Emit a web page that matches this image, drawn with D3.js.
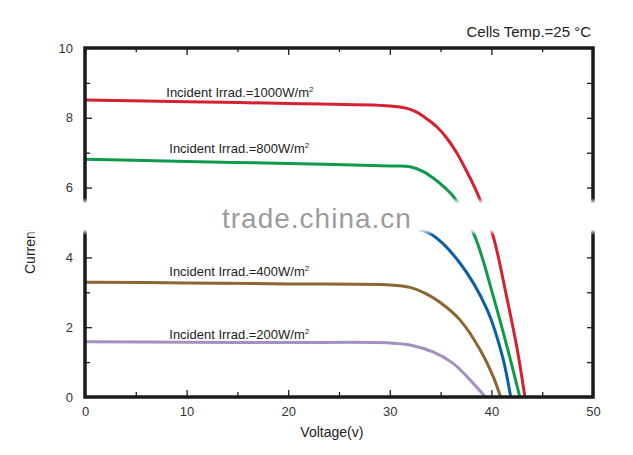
<!DOCTYPE html>
<html>
<head>
<meta charset="utf-8">
<script src="https://cdn.jsdelivr.net/npm/d3@7"></script>
<style>
  body { margin: 0; background: #fff; }
  text { font-family: "Liberation Sans", Arial, sans-serif; }
</style>
</head>
<body>
<div id="chart"></div>
<script>
// I-V curves (voltage in V, current in A)
const v1000 = [0, 10, 20, 30, 31.7, 32.6, 33.6, 34.6, 35.6, 36.6, 37.4, 38.2, 38.9, 40.2, 41.5, 42.5, 43.3];
const i1000 = [8.51, 8.46, 8.41, 8.34, 8.27, 8.17, 7.98, 7.75, 7.42, 6.99, 6.56, 6.1, 5.64, 4.58, 2.87, 1.43, 0];

const v800 = [0, 10, 20, 30, 32, 33.3, 34.3, 35.3, 36.4, 38.4, 40.2, 41.8, 42.8];
const i800 = [6.81, 6.75, 6.69, 6.62, 6.6, 6.46, 6.27, 6.03, 5.69, 4.58, 2.87, 1.15, 0];

const v600 = [0, 10, 20, 29, 31, 32.5, 34.2, 36.9, 39.6, 41.1, 41.9];
const i600 = [5.15, 5.12, 5.08, 5.04, 4.98, 4.85, 4.64, 3.84, 2.49, 1.15, 0];

const v400 = [0, 10, 20, 30, 32, 33.5, 34.9, 36.9, 38.9, 40.2, 40.9];
const i400 = [3.29, 3.27, 3.24, 3.21, 3.14, 2.97, 2.72, 2.21, 1.35, 0.57, 0];

const v200 = [0, 10, 20, 30, 32, 34.25, 36.2, 37.9, 39.4];
const i200 = [1.58, 1.57, 1.56, 1.55, 1.49, 1.29, 0.97, 0.49, 0];

const xMajor = [0, 10, 20, 30, 40, 50];
const xMinor = [5, 15, 25, 35, 45];
const yMajor = [0, 2, 4, 6, 8, 10];
const yMinor = [1, 3, 5, 7, 9];

const series = [
  { v: v1000, i: i1000, color: "#d42030", label: "1000", lx: 0, ly: 8.6 },
  { v: v800, i: i800, color: "#0f9a4a", label: "800", lx: 1, ly: 7.0 },
  { v: v600, i: i600, color: "#0b5fa6", label: null },
  { v: v400, i: i400, color: "#8c6632", label: "400", lx: 1, ly: 3.46 },
  { v: v200, i: i200, color: "#a58fc0", label: "200", lx: 1, ly: 1.66 }
];

const W = 633, H = 455;
const margin = { top: 48, right: 40, bottom: 58, left: 85 },
  width = W - margin.left - margin.right,
  height = H - margin.top - margin.bottom;

const svg = d3.select("#chart").append("svg")
  .attr("width", W)
  .attr("height", H);

const g = svg.append("g")
  .attr("transform", "translate(" + margin.left + "," + margin.top + ")");

const x = d3.scaleLinear().domain([0, 50]).range([0, width]);
const y = d3.scaleLinear().domain([0, 10]).range([height, 0]);

// curves
const line = d3.line()
  .x(function (d) { return x(d[0]); })
  .y(function (d) { return y(d[1]); })
  .curve(d3.curveCatmullRom.alpha(0.5));

series.forEach(function (s) {
  g.append("path")
    .datum(d3.zip(s.v, s.i))
    .attr("d", line)
    .attr("fill", "none")
    .attr("stroke", s.color)
    .attr("stroke-width", 3);

  if (s.label) {
    const t = g.append("text")
      .attr("x", x(8) + s.lx * 3)
      .attr("y", y(s.ly))
      .attr("font-size", 13)
      .attr("fill", "#222")
      .text("Incident Irrad.=" + s.label + "W/m");
    t.append("tspan")
      .attr("dy", -5)
      .attr("font-size", 8)
      .text("2");
  }
});

// ticks (all pointing inward)
function styleAxis(sel) {
  sel.select(".domain").remove();
  sel.selectAll("line").attr("stroke", "#1a1a1a").attr("stroke-width", 1.3);
  sel.selectAll("text").attr("font-size", 13).attr("fill", "#333")
    .attr("font-family", "Liberation Sans, Arial, sans-serif");
}

g.append("g").call(d3.axisLeft(y).tickValues(yMajor).tickSize(-7).tickPadding(12)).call(styleAxis);
g.append("g").call(d3.axisLeft(y).tickValues(yMinor).tickSize(-5).tickFormat("")).call(styleAxis);
g.append("g").attr("transform", "translate(" + width + ",0)")
  .call(d3.axisRight(y).tickValues(yMajor.concat(yMinor)).tickSize(-6).tickFormat("")).call(styleAxis);

g.append("g").attr("transform", "translate(0," + height + ")")
  .call(d3.axisBottom(x).tickValues(xMajor).tickSize(-7).tickPadding(10)).call(styleAxis);
g.append("g").attr("transform", "translate(0," + height + ")")
  .call(d3.axisBottom(x).tickValues(xMinor).tickSize(-5).tickFormat("")).call(styleAxis);
g.append("g")
  .call(d3.axisTop(x).tickValues(xMajor).tickSize(-7).tickFormat("")).call(styleAxis);
g.append("g")
  .call(d3.axisTop(x).tickValues(xMinor).tickSize(-4).tickFormat("")).call(styleAxis);

// frame
g.append("rect")
  .attr("width", width)
  .attr("height", height)
  .attr("fill", "none")
  .attr("stroke", "#1a1a1a")
  .attr("stroke-width", 3.5);

// axis titles
svg.append("text")
  .attr("x", margin.left + x(24.3))
  .attr("y", 437)
  .attr("text-anchor", "middle")
  .attr("font-size", 14)
  .attr("fill", "#222")
  .text("Voltage(v)");

svg.append("text")
  .attr("transform", "translate(35,274) rotate(-90)")
  .attr("font-size", 14)
  .attr("fill", "#222")
  .text("Current(A)");

svg.append("text")
  .attr("x", 591)
  .attr("y", 37)
  .attr("text-anchor", "end")
  .attr("font-size", 15)
  .attr("fill", "#222")
  .text("Cells Temp.=25 \u00B0C");

// watermark band across the middle
const grad = svg.append("defs").append("linearGradient")
  .attr("id", "band").attr("x1", 0).attr("y1", 0).attr("x2", 0).attr("y2", 1);
grad.append("stop").attr("offset", "0%").attr("stop-color", "#fff").attr("stop-opacity", 0);
grad.append("stop").attr("offset", "15%").attr("stop-color", "#fff").attr("stop-opacity", 1);
grad.append("stop").attr("offset", "85%").attr("stop-color", "#fff").attr("stop-opacity", 1);
grad.append("stop").attr("offset", "100%").attr("stop-color", "#fff").attr("stop-opacity", 0);

svg.append("rect")
  .attr("x", 0).attr("y", 198)
  .attr("width", W).attr("height", 37)
  .attr("fill", "url(#band)");

svg.append("text")
  .attr("x", 222)
  .attr("y", 228)
  .attr("font-size", 28)
  .attr("letter-spacing", 1)
  .attr("fill", "#9c9c9c")
  .text("trade.china.cn");
</script>
</body>
</html>
